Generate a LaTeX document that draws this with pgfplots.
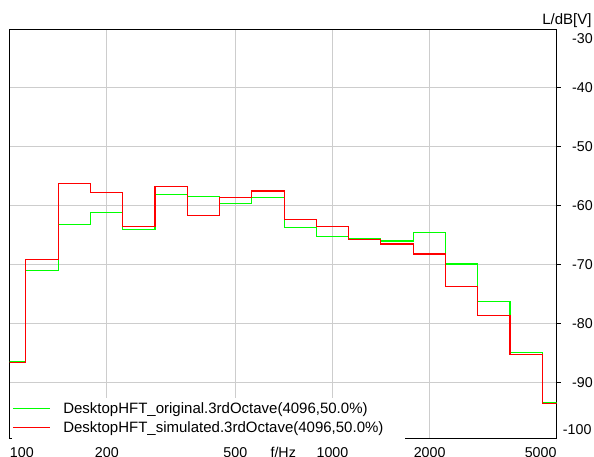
\documentclass[border=0pt]{standalone}
\usepackage{fontspec}
\setmainfont{Liberation Sans}
\usepackage{pgfplots}
\usepackage{pgfplotstable}
\pgfplotsset{compat=1.18}
\definecolor{lgreen}{RGB}{0,255,0}
\definecolor{lred}{RGB}{255,0,0}
\definecolor{gridgray}{RGB}{205,205,205}

\pgfplotstableread{
x g r
89.13 -86.5 -86.7
112.20 -71.0 -69.1
141.25 -63.2 -56.2
177.83 -61.1 -57.7
223.87 -64.0 -63.5
281.84 -58.1 -56.7
354.81 -58.4 -61.6
446.68 -59.6 -58.65
562.34 -58.65 -57.5
707.95 -63.7 -62.4
891.25 -65.2 -63.6
1122.02 -65.5 -65.7
1412.54 -66.0 -66.5
1778.28 -64.6 -68.2
2238.72 -69.9 -73.7
2818.38 -76.2 -78.7
3548.13 -85.0 -85.3
4466.84 -93.35 -93.6
5623.41 -93.35 -93.6
}\bands

\newcommand{\tlfont}{\fontsize{14.25}{16}\selectfont}
\newcommand{\lgfont}{\fontsize{15}{18}\selectfont}

\begin{document}
\begin{tikzpicture}
\begin{axis}[
  scale only axis, width=547pt, height=409.3pt,
  xmode=log, xmin=100, xmax=4950, ymin=-99.5, ymax=-30,
  xtick={200,500,1000,2000}, xticklabels={200,500,1000,2000},
  extra x ticks={100}, extra x tick labels={100},
  extra x tick style={grid=none, xticklabel style={anchor=north west}},
  minor xtick={},
  ytick={-90,-80,-70,-60,-50,-40}, yticklabels={-90,-80,-70,-60,-50,-40},
  xtick pos=left, ytick pos=right, yticklabel pos=right,
  tick align=outside, major tick length=4pt,
  x tick style={draw=none},
  y tick style={black, line width=0.8pt},
  grid=major, major grid style={gridgray, line width=1pt},
  axis line style={black, line width=0.8pt},
  ticklabel style={font=\tlfont},
  xticklabel style={anchor=north, inner sep=0pt, yshift=-4.6pt},
  yticklabel style={anchor=east, inner sep=0pt, xshift=32.3pt},
  clip mode=individual,
  legend style={at={(rel axis cs:0,0)}, anchor=south west, xshift=2.3pt, yshift=-0.9pt,
    draw=none, fill=white, inner xsep=0pt, inner ysep=1pt, font=\lgfont, row sep=0pt,
    /tikz/every odd column/.append style={column sep=13pt},
    nodes={inner sep=0pt, text height=13.9pt, text depth=5.5pt}},
  legend cell align=left,
  legend image code/.code={\draw[#1] (0pt,0.5pt) -- (37pt,0.5pt);},
]
\addplot[const plot, lgreen, line width=1.1pt] table[x=x,y=g]{\bands};
\addlegendentry{DesktopHFT\_original.3rdOctave(4096,50.0\%)\hspace*{22pt}}
\addplot[const plot, lred, line width=1.1pt] table[x=x,y=r]{\bands};
\addlegendentry{DesktopHFT\_simulated.3rdOctave(4096,50.0\%)\hspace*{22pt}}

\node[anchor=north east, inner sep=0pt, font=\tlfont, xshift=36.3pt, yshift=-4.3pt] at (rel axis cs:1,1) {-30};
\node[anchor=base east, inner sep=0pt, font=\tlfont, xshift=35pt, yshift=3.3pt] at (rel axis cs:1,0) {-100};
\node[anchor=north east, inner sep=0pt, font=\tlfont, yshift=-8.6pt] at (rel axis cs:1,0) {5000};
\node[anchor=north, inner sep=0pt, font=\tlfont, yshift=-8.6pt] at (rel axis cs:0.5,0) {f/Hz};
\node[anchor=base east, inner sep=0pt, font=\lgfont, xshift=35pt, yshift=4pt] at (rel axis cs:1,1) {L/dB[V]};
\end{axis}
\pgfresetboundingbox
\path[use as bounding box] (-9.7pt,-18.7pt) rectangle (584.3pt,438.3pt);
\end{tikzpicture}
\end{document}
